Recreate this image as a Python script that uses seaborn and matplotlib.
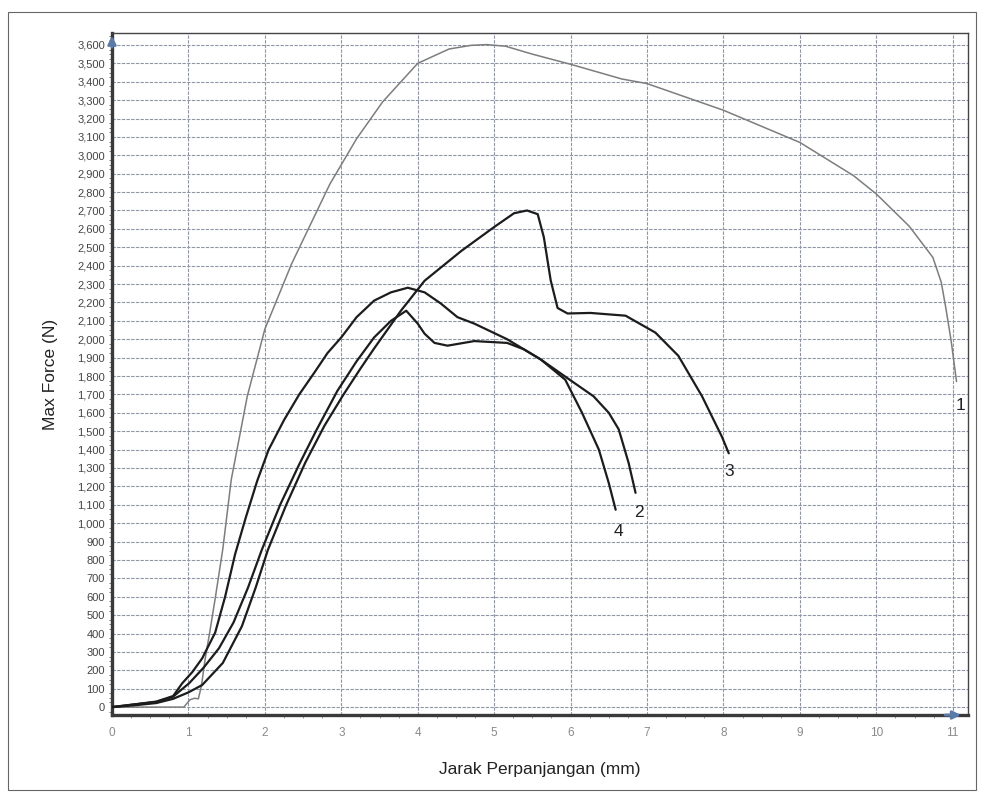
import matplotlib
matplotlib.use("Agg")
import matplotlib.pyplot as plt
import matplotlib.ticker as mticker
from matplotlib.patches import Rectangle
import seaborn as sns
import pandas as pd

# ---- data (displacement in mm, force in N) ----
x1 = [0, 0.5, 0.94, 0.98, 1.02, 1.08, 1.13, 1.17, 1.22, 1.28, 1.35, 1.45, 1.56, 1.77, 2.0, 2.35,
      2.65, 2.85, 3.2, 3.54, 4.0, 4.41, 4.7, 4.9, 5.15, 5.5, 6.0, 6.67, 7.0, 8.0, 9.0, 9.7,
      10.0, 10.43, 10.74, 10.85, 10.91, 10.98, 11.05]
f1 = [0, 0, 0, 20, 40, 48, 45, 115, 265, 410, 590, 860, 1236, 1690, 2055, 2410,
      2670, 2843, 3090, 3290, 3500, 3578, 3598, 3602, 3593, 3550, 3495, 3415, 3390, 3245, 3070, 2890,
      2790, 2615, 2445, 2310, 2170, 1990, 1770]

x2 = [0, 0.3, 0.58, 0.8, 0.92, 1.05, 1.18, 1.35, 1.48, 1.61, 1.75, 1.9, 2.05, 2.25, 2.45, 2.65,
      2.82, 3.0, 3.2, 3.43, 3.65, 3.87, 4.09, 4.3, 4.52, 4.74, 5.17, 5.61, 6.04, 6.3, 6.5, 6.63,
      6.76, 6.85]
f2 = [0, 15, 30, 60, 130, 190, 265, 405, 600, 830, 1030, 1230, 1400, 1560, 1700, 1820,
      1925, 2010, 2120, 2210, 2255, 2280, 2255, 2195, 2120, 2085, 2000, 1890, 1765, 1690, 1600, 1510,
      1327, 1165]

x3 = [0, 0.3, 0.58, 0.8, 1.0, 1.18, 1.45, 1.7, 1.88, 2.04, 2.28, 2.53, 2.78, 3.03, 3.25, 3.43,
      3.78, 4.09, 4.57, 5.0, 5.26, 5.43, 5.57, 5.65, 5.74, 5.83, 5.96, 6.26, 6.72, 7.11, 7.41,
      7.72, 7.98, 8.07]
f3 = [0, 10, 22, 45, 80, 120, 240, 440, 650, 855, 1100, 1330, 1530, 1700, 1840, 1950,
      2155, 2318, 2480, 2610, 2685, 2700, 2680, 2555, 2320, 2170, 2140, 2143, 2128, 2036, 1910,
      1690, 1470, 1380]

x4 = [0, 0.3, 0.58, 0.8, 1.01, 1.2, 1.4, 1.59, 1.78, 1.96, 2.2, 2.45, 2.68, 2.95, 3.2, 3.43,
      3.65, 3.85, 4.0, 4.09, 4.22, 4.39, 4.74, 5.17, 5.39, 5.61, 5.93, 6.15, 6.37, 6.5, 6.59]
f4 = [0, 15, 28, 57, 130, 215, 320, 460, 650, 855, 1100, 1320, 1510, 1720, 1880, 2010,
      2100, 2155, 2085, 2030, 1980, 1965, 1990, 1980, 1945, 1890, 1780, 1600, 1400, 1218, 1073]

labels = ["1", "2", "3", "4"]
label_x = [11.1, 6.89, 8.08, 6.63]
label_f = [1640, 1060, 1280, 955]

yticks = list(range(0, 3601, 100))
xticks = list(range(0, 12))

frames = []
for name, xs, fs in [("1", x1, f1), ("2", x2, f2), ("3", x3, f3), ("4", x4, f4)]:
    frames.append(pd.DataFrame({"x": xs, "F": fs, "spec": name}))
df = pd.concat(frames, ignore_index=True)

sns.set_theme(style="white")
plt.rcParams["font.family"] = ["Liberation Sans", "DejaVu Sans"]

fig = plt.figure(figsize=(9.85, 7.95), dpi=100)
ax = fig.add_axes([112 / 985, 1 - 715 / 795, 856 / 985, 682 / 795])

palette = {"1": "#7d7d7d", "2": "#1c1c1c", "3": "#1c1c1c", "4": "#1c1c1c"}
widths = {"1": 1.1, "2": 1.6, "3": 1.6, "4": 1.6}
for name in labels:
    sub = df[df["spec"] == name]
    sns.lineplot(data=sub, x="x", y="F", ax=ax, color=palette[name],
                 linewidth=widths[name], sort=False, estimator=None, legend=False, zorder=3)

ax.set_xlim(0, 11.2)
ax.set_ylim(-43, 3665)
ax.set_xticks(xticks)
ax.set_yticks(yticks)
ax.xaxis.set_minor_locator(mticker.MultipleLocator(0.25))
ax.yaxis.set_minor_locator(mticker.MultipleLocator(25))
ax.yaxis.set_major_formatter(mticker.FuncFormatter(lambda v, p: f"{int(v):,}"))

ax.grid(True, which="major", linestyle=(0, (3, 1.2)), color="#8f95a5", linewidth=0.8, zorder=0)
ax.tick_params(axis="y", which="major", length=4, width=0.8, colors="#444444", labelsize=8, pad=1,
               direction="out")
ax.tick_params(axis="y", which="minor", length=2, width=0.6, color="#666666", direction="out", left=True)
ax.tick_params(axis="x", which="major", length=4, width=0.8, colors="#8a8a8a", labelsize=8.5, pad=5,
               direction="out")
ax.tick_params(axis="x", which="minor", length=2, width=0.6, color="#888888", direction="out", bottom=True)

for side in ["top", "right"]:
    ax.spines[side].set_color("#444444")
    ax.spines[side].set_linewidth(1.0)
for side in ["left", "bottom"]:
    ax.spines[side].set_color("#3a3a3a")
    ax.spines[side].set_linewidth(2.4)

ax.set_xlabel("Jarak Perpanjangan (mm)", fontsize=12.5, color="#222222", labelpad=16)
ax.set_ylabel("Max Force (N)", fontsize=12.5, color="#222222", labelpad=14)

for t, lx, lf in zip(labels, label_x, label_f):
    ax.text(lx, lf, t, fontsize=12.5, color="#222222", ha="center", va="center", zorder=4)

# axis arrows (blue heads as in the original)
ax.annotate("", xy=(0, 1.0), xycoords="axes fraction", xytext=(0, 0.975),
            arrowprops=dict(arrowstyle="-|>", color="#5b7aa8", lw=2, mutation_scale=12))
ax.annotate("", xy=(0.995, 0), xycoords="axes fraction", xytext=(0.97, 0),
            arrowprops=dict(arrowstyle="-|>", color="#5b7aa8", lw=2, mutation_scale=12))

# scanned page border
fig.patches.append(Rectangle((8 / 985, 5 / 795), 968 / 985, 778 / 795, transform=fig.transFigure,
                             fill=False, edgecolor="#666666", linewidth=0.8))

fig.savefig("out.png", dpi=100)
